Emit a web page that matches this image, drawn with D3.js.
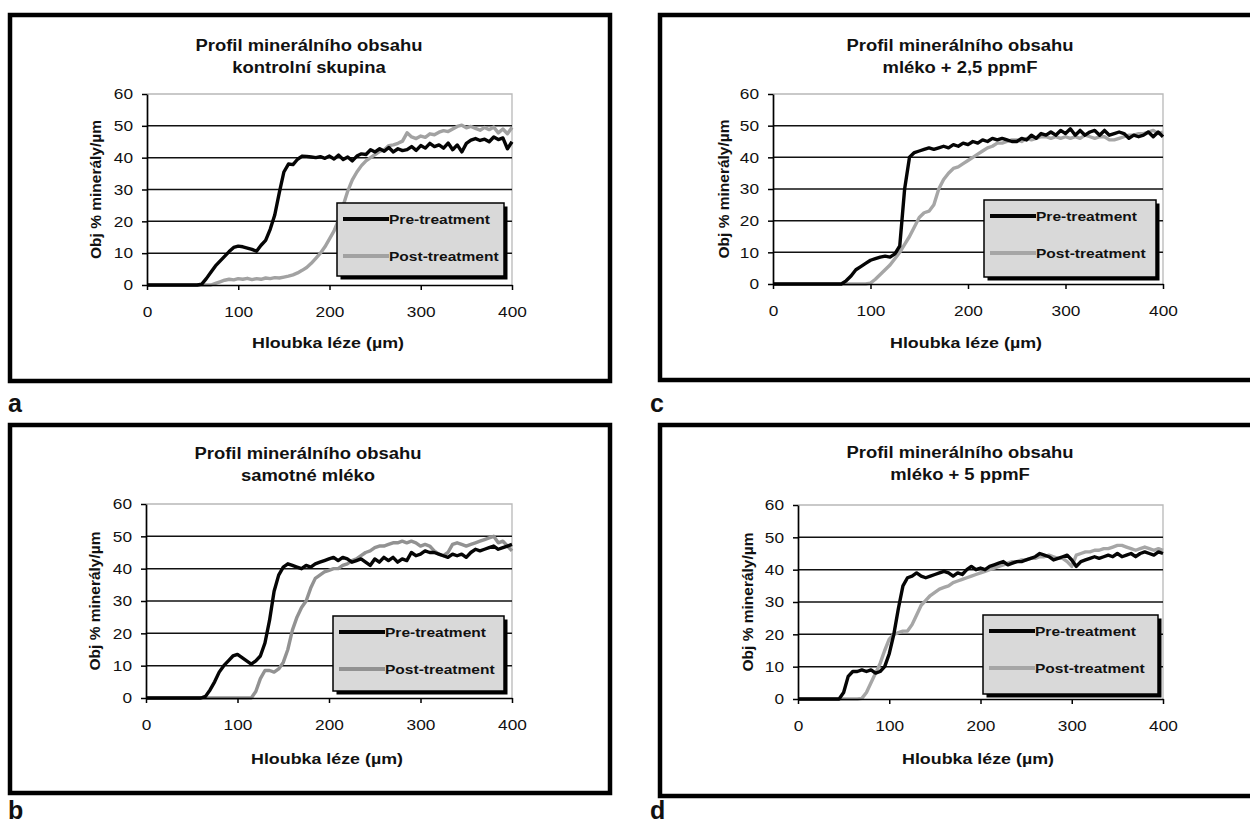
<!DOCTYPE html>
<html>
<head>
<meta charset="utf-8">
<script src="https://cdn.jsdelivr.net/npm/d3@7/dist/d3.min.js"></script>
<style>
  body { margin: 0; background: #fff; }
  text { font-family: "Liberation Sans", Arial, sans-serif; }
</style>
</head>
<body>
<svg id="fig" width="1250" height="824"></svg>
<script>
// depth of each sample (µm)
const depth = [0,5,10,15,20,25,30,35,40,45,50,55,60,65,70,75,80,85,90,95,
  100,105,110,115,120,125,130,135,140,145,150,155,160,165,170,175,180,185,190,195,
  200,205,210,215,220,225,230,235,240,245,250,255,260,265,270,275,280,285,290,295,
  300,305,310,315,320,325,330,335,340,345,350,355,360,365,370,375,380,385,390,395,400];

const xTicks = [0, 100, 200, 300, 400];
const yTicks = [0, 10, 20, 30, 40, 50, 60];
const seriesNames = ['Pre-treatment', 'Post-treatment'];
const mainTitle = 'Profil minerálního obsahu';
const xTitle = 'Hloubka léze (µm)';
const yTitle = 'Obj % minerály/µm';

// a - kontrolní skupina
const preA = [0,0,0,0,0,0,0,0,0,0,0,0,0.3,2,4,6,7.5,9,10.5,11.8,
  12.2,12,11.6,11.2,10.6,12.5,14,17.5,22,29,35.5,38,37.8,39.5,40.5,40.4,40.2,40,40.3,39.8,
  40.5,39.6,40.8,39.4,40.2,39,40.5,41.2,41,42.5,41.8,42.8,42,43.2,41.8,42.8,42.2,42.5,43.5,42.3,
  43.8,43,44.5,43.5,44,43,44.6,42.5,44,41.8,44.5,45.5,46,45.4,45.8,45,46.5,45.7,46.2,42.8,45];
const postA = [0,0,0,0,0,0,0,0,0,0,0,0,0,0,0,0.5,1,1.5,1.8,1.6,
  2,1.8,2.1,1.7,2,1.8,2.2,2,2.3,2.2,2.5,2.8,3.2,3.8,4.6,5.5,6.8,8.4,10,12,
  14.5,17,20.5,25,29.5,33,35.5,37.5,39,40,41,42,42.5,43.8,44,44.5,45.2,47.8,46.5,46,
  46.8,46.4,47.5,47.2,48,48.5,48.2,49,49.8,50.2,49.4,49.8,49.2,48.6,49.5,48.8,49.6,47.8,49,47.5,49.5];

// b - samotné mléko
const preB = [0,0,0,0,0,0,0,0,0,0,0,0,0,0.5,2.5,5,8,10,11.5,13,
  13.5,12.5,11.5,10.5,11.5,13,17,24,33,38,40.5,41.5,41,40.5,40,41,40.5,41.5,42,42.5,
  43,43.5,42.5,43.5,43,42,42.5,43,42,41,43,42,43.5,42.5,43.5,42,43,42.5,45,44,
  44.5,45.5,45,45,44.5,44,43.5,44.5,44,44.5,43.5,45,46,45.5,46,46.5,47,46,46.5,47,47.5];
const postB = [0,0,0,0,0,0,0,0,0,0,0,0,0,0,0,0,0,0,0,0,
  0,0,0,0,2,6,8.5,8.5,8,9,11,15,21,25,28,30,34,37,38,39,
  39.5,40,40,41,41.5,42.5,43,44,45,45.5,46.5,47,47,47.5,48,48,48.5,48,48.5,48,
  47,47.5,47,45.5,44.5,44,45,47.5,48,47.5,47,47.5,48,48.5,49,49.5,50,48,48.5,47,45.5];

// c - mléko + 2,5 ppmF
const preC = [0,0,0,0,0,0,0,0,0,0,0,0,0,0,0,1,2.5,4.5,5.5,6.5,
  7.5,8,8.5,8.8,8.5,9.5,12,30,40,41.5,42,42.5,43,42.5,43,43.5,43,44,43.5,44.5,
  44,45,44.5,45.5,45,46,45.5,46,45.5,45,45,46,45.5,47,46,47.5,47,48,47,48.5,
  47.5,49,47,48.5,47,48,48.5,47,48.5,47,47.5,48,47.5,46,47,46.5,47,48,46.5,48,46.5];
const postC = [0,0,0,0,0,0,0,0,0,0,0,0,0,0,0,0,0,0,0,0,
  0.3,1.5,3,4.5,6,8,10,12.5,15,18,21,22.5,23,25,30,33,35,36.5,37,38,
  39,40,41,42,43,43.5,44.5,44.5,45,45.5,45.5,45,46,45.5,46,46.5,46.5,46,46.5,46,
  46.5,46,46.5,46,47,46.5,46,46.5,46.5,45.5,45.5,46,46.5,47,47,47.5,47.5,48,48.5,47.5,48];

// d - mléko + 5 ppmF
const preD = [0,0,0,0,0,0,0,0,0,0,2,7,8.5,8.5,9,8.5,9,8,8.5,10,
  14,20,28,35,37.5,38,39,38,37.5,38,38.5,39,39.5,39,38,39,38.5,40,41,40,
  40.5,40,41,41.5,42,42.5,41.5,42,42.5,42.5,43,43.5,44,45,44.5,44,43,43.5,44,44.5,
  43,41,42.5,43,43.5,44,43.5,44,44.5,44,45,44,44.5,45,44,45,45.5,45,44.5,45.5,45];
const postD = [0,0,0,0,0,0,0,0,0,0,0,0,0,0,0.2,2,5,8,11,15,
  18.5,20,20.5,21,21,23,26,29,30.5,32,33,34,34.5,35,36,36.5,37,37.5,38,38.5,
  39,39.5,40,40.5,41,41.5,42,42.5,42.5,43,43,43.5,43.5,44,44,44.5,44,43.5,43.5,42.5,
  41,44.5,45,45.5,45.5,46,46,46.5,46.5,47,47.5,47.5,47,46.5,46,46.5,47,46.5,46,46.5,46];

const panels = [
  { letter: 'a', subtitle: 'kontrolní skupina', pre: preA, post: postA, postColor: '#a2a2a2',
    frame: [8, 13, 604, 370], plot: [147, 512, 285, 94], titleX: 309, titleY: 45,
    xTitleX: 328, xTitleY: 342, yTitleX: 95, legend: [337, 203, 167, 73], letterPos: [8, 412] },
  { letter: 'b', subtitle: 'samotné mléko', pre: preB, post: postB, postColor: '#929292',
    frame: [8, 423, 604, 372], plot: [146, 512, 698, 504], titleX: 308, titleY: 453,
    xTitleX: 327, xTitleY: 758, yTitleX: 94, legend: [333, 616, 171, 75], letterPos: [8, 819] },
  { letter: 'c', subtitle: 'mléko + 2,5 ppmF', pre: preC, post: postC, postColor: '#a6a6a6',
    frame: [658, 13, 700, 369], plot: [773, 1163, 284, 94], titleX: 960, titleY: 45,
    xTitleX: 966, xTitleY: 342, yTitleX: 723, legend: [984, 200, 172, 77], letterPos: [650, 412] },
  { letter: 'd', subtitle: 'mléko + 5 ppmF', pre: preD, post: postD, postColor: '#a6a6a6',
    frame: [658, 423, 700, 375], plot: [798, 1163, 699, 505], titleX: 960, titleY: 452,
    xTitleX: 978, xTitleY: 758, yTitleX: 747, legend: [983, 615, 175, 79], letterPos: [650, 819] }
];

const svg = d3.select('#fig');
svg.append('rect').attr('width', 1250).attr('height', 824).attr('fill', '#fff');

const preColor = '#050505';
const hStretch = 1.15; // the scanned figure is a little wider than tall

function stretch(sel) {
  sel.each(function () {
    const len = this.getComputedTextLength();
    d3.select(this).attr('textLength', len * hStretch).attr('lengthAdjust', 'spacingAndGlyphs');
  });
}

function drawPanel(p) {
  const [fx, fy, fw, fh] = p.frame;
  const [x0, x1, y0, y1] = p.plot;
  const g = svg.append('g');

  g.append('rect')
    .attr('x', fx + 2).attr('y', fy + 2)
    .attr('width', fw - 4).attr('height', fh - 4)
    .attr('fill', '#fff').attr('stroke', '#000').attr('stroke-width', 4.5);

  const x = d3.scaleLinear().domain([0, 400]).range([x0, x1]);
  const y = d3.scaleLinear().domain([0, 60]).range([y0, y1]);

  // plot area border (light) and gridlines
  g.append('path')
    .attr('d', `M${x0},${y(60)}H${x(400)}V${y0}`)
    .attr('fill', 'none').attr('stroke', '#b8b8b8').attr('stroke-width', 1.3);
  g.selectAll('.grid').data(yTicks.filter(v => v > 0 && v < 60)).enter()
    .append('line')
    .attr('x1', x0).attr('x2', x(400))
    .attr('y1', d => y(d)).attr('y2', d => y(d))
    .attr('stroke', '#111').attr('stroke-width', 1.5);

  const line = d3.line().x((d, i) => x(depth[i])).y(d => y(d));
  g.append('path').datum(p.post).attr('d', line)
    .attr('fill', 'none').attr('stroke', p.postColor).attr('stroke-width', 3.4)
    .attr('stroke-linejoin', 'round');
  g.append('path').datum(p.pre).attr('d', line)
    .attr('fill', 'none').attr('stroke', preColor).attr('stroke-width', 3.4)
    .attr('stroke-linejoin', 'round');

  const xAxis = g.append('g').attr('transform', `translate(0,${y0})`)
    .call(d3.axisBottom(x).tickValues(xTicks).tickSize(5).tickSizeOuter(0).tickPadding(16));
  const yAxis = g.append('g').attr('transform', `translate(${x0},0)`)
    .call(d3.axisLeft(y).tickValues(yTicks).tickSize(5).tickSizeOuter(0).tickPadding(9));
  [xAxis, yAxis].forEach(a => {
    a.select('.domain').attr('stroke', '#000').attr('stroke-width', 1.7);
    a.selectAll('.tick line').attr('stroke', '#000').attr('stroke-width', 1.5);
    a.selectAll('.tick text').attr('font-size', 15).attr('fill', '#111')
      .attr('font-family', '"Liberation Sans", Arial, sans-serif')
      .call(stretch);
  });

  // titles
  [mainTitle, p.subtitle].forEach((s, i) => {
    g.append('text').attr('x', p.titleX).attr('y', p.titleY + 6 + i * 22)
      .attr('text-anchor', 'middle').attr('font-size', 16).attr('font-weight', 'bold')
      .attr('fill', '#111').text(s).call(stretch);
  });

  g.append('text').attr('x', p.xTitleX).attr('y', p.xTitleY + 5.5)
    .attr('text-anchor', 'middle').attr('font-size', 15.5).attr('font-weight', 'bold')
    .attr('fill', '#111').text(xTitle).call(stretch);
  g.append('text')
    .attr('transform', `translate(${p.yTitleX + 5.5},${(y0 + y1) / 2}) rotate(-90)`)
    .attr('text-anchor', 'middle').attr('font-size', 15.5).attr('font-weight', 'bold')
    .attr('fill', '#111').text(yTitle);

  // legend
  const [lx, ly, lw, lh] = p.legend;
  const lg = g.append('g');
  lg.append('rect').attr('x', lx + 3.5).attr('y', ly + 3.5).attr('width', lw).attr('height', lh)
    .attr('fill', '#000');
  lg.append('rect').attr('x', lx).attr('y', ly).attr('width', lw).attr('height', lh)
    .attr('fill', '#d9d9d9').attr('stroke', '#000').attr('stroke-width', 1.5);
  const rows = [ly + 16, ly + 53];
  [preColor, p.postColor].forEach((c, i) => {
    lg.append('line').attr('x1', lx + 6).attr('x2', lx + 52)
      .attr('y1', rows[i]).attr('y2', rows[i])
      .attr('stroke', c).attr('stroke-width', 4.2);
    lg.append('text').attr('x', lx + 52).attr('y', rows[i] + 5)
      .attr('font-size', 13.5).attr('font-weight', 'bold').attr('fill', '#111')
      .text(seriesNames[i]).call(stretch);
  });

  svg.append('text').attr('x', p.letterPos[0]).attr('y', p.letterPos[1])
    .attr('font-family', '"DejaVu Serif", serif').attr('font-weight', 'bold')
    .attr('font-size', 25).attr('fill', '#111').text(p.letter);
}

panels.forEach(drawPanel);
</script>
</body>
</html>
